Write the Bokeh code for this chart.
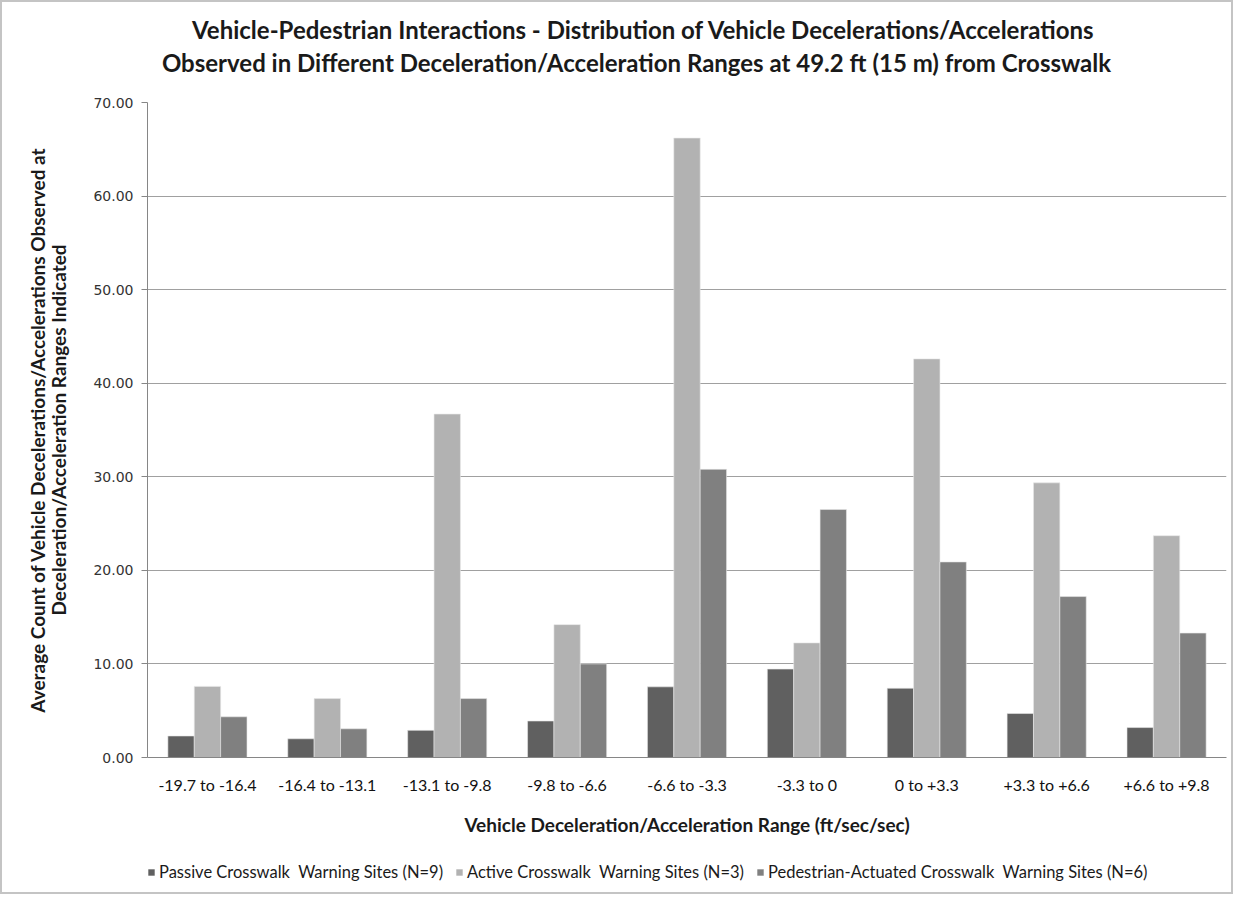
from bokeh.plotting import figure
from bokeh.layouts import column
from bokeh.models import (FactorRange, Legend, LegendItem, SingleIntervalTicker, FixedTicker,
                          NumeralTickFormatter, ColumnDataSource, Label, Range1d, LinearAxis)
from bokeh.transform import dodge
from bokeh.embed import file_html
from bokeh.resources import INLINE

categories = ["-19.7 to -16.4", "-16.4 to -13.1", "-13.1 to -9.8", "-9.8 to -6.6",
              "-6.6 to -3.3", "-3.3 to 0", "0 to +3.3", "+3.3 to +6.6", "+6.6 to +9.8"]
passive = [2.3, 2.0, 2.9, 3.9, 7.55, 9.45, 7.4, 4.7, 3.2]
active = [7.6, 6.3, 36.7, 14.2, 66.2, 12.25, 42.6, 29.35, 23.7]
ped_actuated = [4.35, 3.07, 6.3, 10.0, 30.8, 26.5, 20.9, 17.2, 13.3]
series_names = ["Passive Crosswalk  Warning Sites (N=9)",
                "Active Crosswalk  Warning Sites (N=3)",
                "Pedestrian-Actuated Crosswalk  Warning Sites (N=6)"]
colors = ["#606060", "#b2b2b2", "#808080"]

title_lines = ["Vehicle-Pedestrian Interactions - Distribution of Vehicle Decelerations/Accelerations",
               "Observed in Different Deceleration/Acceleration Ranges at 49.2 ft (15 m) from Crosswalk"]
ylabel_lines = ["Average Count of Vehicle Decelerations/Accelerations Observed at",
                "Deceleration/Acceleration Ranges Indicated"]
xlabel = "Vehicle Deceleration/Acceleration Range (ft/sec/sec)"

FONT = "Lato"
BORDER = 2
W = 1229
HEAD_H = 78
MAIN_H = 765
FOOT_H = 47
FRAME_L, FRAME_R = 147, 1226      # frame edges in picture pixels
FRAME_T = 102

# ---------------- header with the two-line title ----------------
# frames of the stacked plots are aligned, so the header frame spans FRAME_L..FRAME_R
head = figure(width=W, height=HEAD_H, x_range=Range1d(FRAME_L, FRAME_R), y_range=Range1d(HEAD_H, 0),
              output_backend="svg", toolbar_location=None, min_border=0,
              x_axis_type=None, y_axis_type=None)
head.grid.visible = False
head.outline_line_color = None
for line, cx, cy in zip(title_lines, [643, 636], [27, 60]):
    head.add_layout(Label(x=cx, y=cy, text=line, text_align="center", text_baseline="middle",
                          text_font=FONT, text_font_style="bold", text_font_size="24px",
                          text_color="#1a1a1a"))

# ---------------- main chart ----------------
source = ColumnDataSource(dict(cat=categories, passive=passive, active=active, ped=ped_actuated))

top_border = FRAME_T - BORDER - HEAD_H
p = figure(x_range=FactorRange(factors=categories, range_padding=0), y_range=(0, 70),
           width=W, height=MAIN_H, output_backend="svg", toolbar_location=None,
           min_border_left=FRAME_L - BORDER, min_border_right=W - (FRAME_R - BORDER),
           min_border_top=top_border, min_border_bottom=MAIN_H - top_border - 655)
p.title.visible = False
p.outline_line_color = None

bw = 0.22
edge = dict(line_color="#e8e8e8", line_width=0.6)
p.vbar(x=dodge("cat", -bw, range=p.x_range), top="passive", width=bw, source=source,
       fill_color=colors[0], **edge)
p.vbar(x=dodge("cat", 0, range=p.x_range), top="active", width=bw, source=source,
       fill_color=colors[1], **edge)
p.vbar(x=dodge("cat", bw, range=p.x_range), top="ped", width=bw, source=source,
       fill_color=colors[2], **edge)

label_style = dict(axis_label_text_font=FONT, axis_label_text_font_style="bold",
                   axis_label_text_font_size="19px", axis_label_text_color="#1a1a1a",
                   axis_label_text_line_height=0.95)

p.yaxis.ticker = SingleIntervalTicker(interval=10)
p.yaxis.formatter = NumeralTickFormatter(format="0.00")
p.yaxis.major_label_text_font = "DejaVu Sans"
p.yaxis.major_label_text_font_size = "14px"
p.yaxis.major_label_text_color = "#333333"
p.yaxis.major_tick_out = 6
p.yaxis.major_tick_in = 0
p.yaxis.minor_tick_out = 0
p.yaxis.minor_tick_in = 0
p.yaxis.major_label_standoff = 8
p.yaxis.axis_line_color = "#868686"
p.yaxis.major_tick_line_color = "#868686"
p.yaxis.axis_label = ylabel_lines[1]
p.yaxis.axis_label_standoff = 20
for k, v in label_style.items():
    setattr(p.yaxis[0], k, v)

# outer left axis carrying only the first line of the y title
outer = LinearAxis(ticker=FixedTicker(ticks=[]), axis_line_color=None, major_tick_line_color=None,
                   minor_tick_line_color=None, axis_label=ylabel_lines[0], axis_label_standoff=-4,
                   **label_style)
p.add_layout(outer, "left")

p.xaxis.major_label_text_font = FONT
p.xaxis.major_label_text_font_size = "16px"
p.xaxis.major_label_text_color = "#111111"
p.xaxis.major_tick_line_color = None
p.xaxis.axis_line_color = "#868686"
p.xaxis.major_label_standoff = 11
p.xaxis.axis_label = xlabel
p.xaxis.axis_label_standoff = 16
p.xaxis.axis_label_text_font = FONT
p.xaxis.axis_label_text_font_style = "bold"
p.xaxis.axis_label_text_font_size = "19px"
p.xaxis.axis_label_text_color = "#1a1a1a"

p.xgrid.grid_line_color = None
p.ygrid.grid_line_color = "#a0a0a0"
p.ygrid.grid_line_width = 1.2

# ---------------- footer with the legend ----------------
foot = figure(width=W, height=FOOT_H, x_range=Range1d(0, 1), y_range=Range1d(0, 1),
              output_backend="svg", toolbar_location=None, min_border=0,
              x_axis_type=None, y_axis_type=None)
foot.grid.visible = False
foot.outline_line_color = None
# zero-size key glyphs for the legend swatches
swatches = [foot.vbar(x=[0], top=[0], width=0, fill_color=c, line_color=None) for c in colors]
legend = Legend(items=[LegendItem(label=n, renderers=[r]) for n, r in zip(series_names, swatches)],
                orientation="horizontal", location=(0, 10),
                glyph_width=8, glyph_height=8, label_standoff=4, spacing=12,
                padding=0, margin=0, border_line_color=None, background_fill_alpha=0,
                label_text_font=FONT, label_text_font_size="16.5px", label_height=16,
                label_text_color="#1a1a1a")
foot.add_layout(legend)

layout = column(head, p, foot, spacing=0, styles={"border": f"{BORDER}px solid #c4c4c4"})
open("out.html", "w").write(file_html(layout, INLINE))
